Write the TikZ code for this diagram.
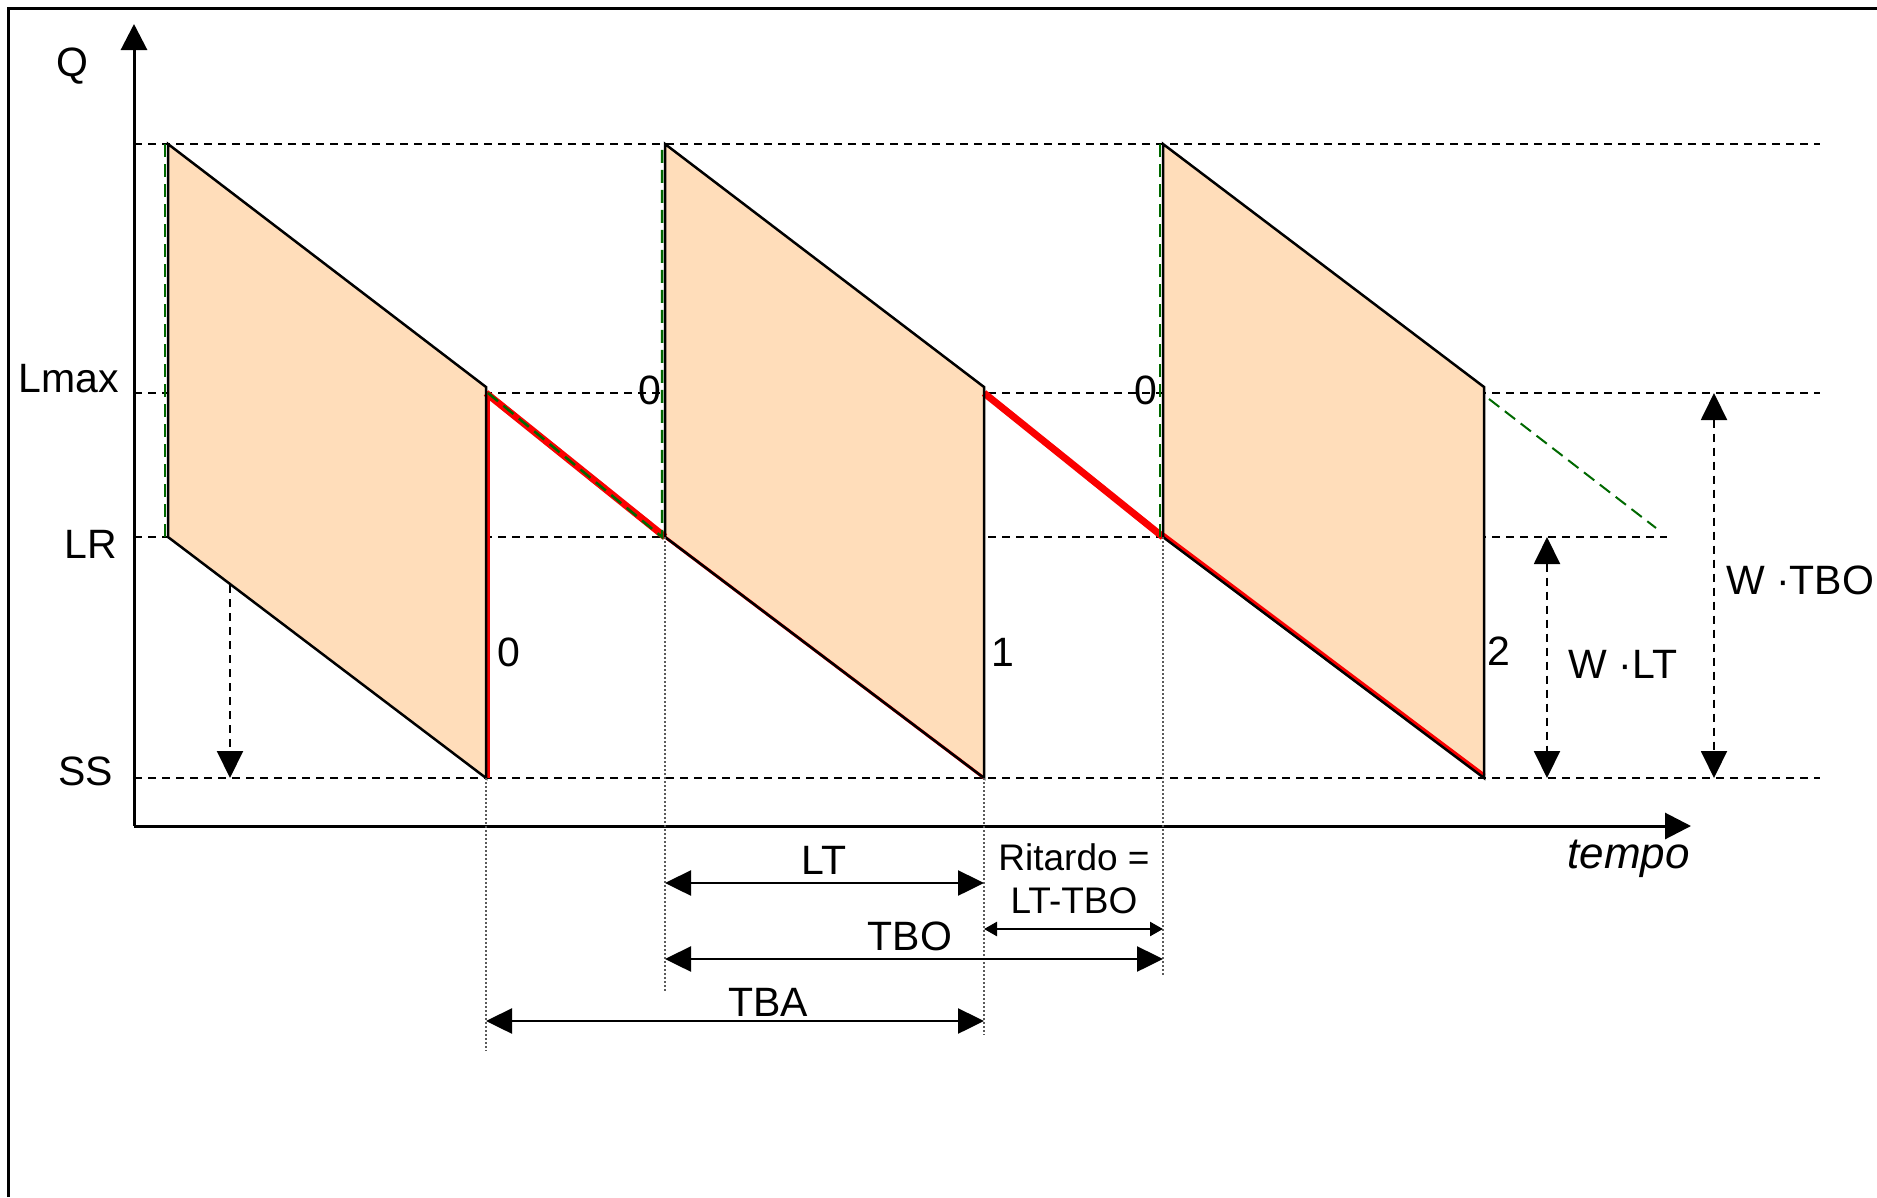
\documentclass[tikz,border=0pt]{standalone}
\usepackage{fontspec}
\setmainfont{Liberation Sans}
\usetikzlibrary{arrows.meta}
\definecolor{stockfill}{RGB}{255,221,186}
\definecolor{pathred}  {RGB}{250,  0,  0}
\definecolor{posgreen} {RGB}{  0,105,  0}
\definecolor{guidegray}{RGB}{ 90, 90, 90}
\tikzset{
  lbl/.style={font=\fontsize{41}{49}\selectfont,inner sep=0pt},
  lblsmall/.style={font=\fontsize{37}{43}\selectfont,inner sep=0pt,align=center},
  frame/.style={line width=3pt},
  axis/.style={line width=3pt,-{Triangle[length=26pt,width=26pt]}},
  level/.style={line width=2pt,dash pattern=on 8pt off 6pt},
  edge/.style={line width=2.5pt,line join=miter},
  redthick/.style={line width=7pt,color=pathred},
  redthin/.style={line width=3pt,color=pathred},
  posline/.style={line width=2.5pt,color=posgreen,dash pattern=on 13pt off 7pt},
  guide/.style={line width=1.2pt,color=guidegray,dash pattern=on 2pt off 2pt},
  dim/.style={line width=2.5pt,{Triangle[length=26pt,width=25pt]}-{Triangle[length=26pt,width=25pt]}},
  dimsmall/.style={line width=2.5pt,{Triangle[length=13pt,width=14pt]}-{Triangle[length=13pt,width=14pt]}},
  dashdim/.style={line width=2pt,dash pattern=on 8pt off 6pt,
                  {Triangle[length=27pt,width=26pt]}-{Triangle[length=27pt,width=26pt]}},
  dashone/.style={line width=2pt,dash pattern=on 8pt off 6pt,-{Triangle[length=27pt,width=26pt]}},
}
\begin{document}
\begin{tikzpicture}[x=1pt,y=-1pt]
  \useasboundingbox (0,0) rectangle (1877,1197);
  \draw[frame](8,1197)--(8,8)--(1877,8);
  % axes and levels
  \coordinate (o) at (134,826);
  \coordinate (ytip) at (134,24);
  \coordinate (xtip) at (1691,826);
  \coordinate (qmax) at (134,144);  \coordinate (qmaxE) at (1820,144);
  \coordinate (lmax) at (134,393);  \coordinate (lmaxE) at (1820,393);
  \coordinate (lr)   at (134,537);  \coordinate (lrE)   at (1667,537);
  \coordinate (ss)   at (134,778);  \coordinate (ssE)   at (1820,778);
  \draw[level](qmax)--(qmaxE);
  \draw[level](lmax)--(lmaxE);
  \draw[level](lr)--(lrE);
  \draw[level](ss)--(ssE);
  % the three orders
  \coordinate (aTL) at (168,144);  \coordinate (aTR) at (486,387);
  \coordinate (aBR) at (486,778);  \coordinate (aBL) at (168,537);
  \coordinate (bTL) at (665,144);  \coordinate (bTR) at (984,387);
  \coordinate (bBR) at (984,778);  \coordinate (bBL) at (665,537);
  \coordinate (cTL) at (1163,144); \coordinate (cTR) at (1484,387);
  \coordinate (cBR) at (1484,778); \coordinate (cBL) at (1163,537);
  \coordinate (aLm) at (486,393);  \coordinate (bLm) at (984,393);
  \fill[stockfill](aTL)--(aTR)--(aBR)--(aBL)--cycle;
  \fill[stockfill](bTL)--(bTR)--(bBR)--(bBL)--cycle;
  \fill[stockfill](cTL)--(cTR)--(cBR)--(cBL)--cycle;
  \draw[posline]([xshift=3pt]bLm)--([xshift=-2pt]cBL);
  \draw[redthick](aLm)--(bBL);
  \draw[redthin](bBL)--(bBR);
  \draw[redthick](bLm)--(cBL);
  \draw[redthick,line width=5pt]([yshift=2pt]cBL)--([yshift=2pt]cBR);
  \draw[redthin]([xshift=2.5pt]aLm)--([xshift=2.5pt]aBR);
  \draw[edge](aBL)--(aTL)--(aTR)--(aBR)--cycle;
  \draw[edge](bBL)--(bTL)--(bTR)--(bBR)--cycle;
  \draw[edge](cBL)--(cTL)--(cTR)--(cBR)--cycle;
  \draw[posline]([xshift=-3pt]aBL)--([xshift=-3pt]aTL);
  \draw[posline]([xshift=2pt]aLm)--([xshift=-3pt]bBL)--([xshift=-3pt]bTL);
  \draw[posline]([xshift=-3pt]cBL)--([xshift=-3pt]cTL);
  \coordinate (gStart) at (1489,399); \coordinate (gEnd) at (1656,528);
  \draw[posline,line width=2pt](gStart)--(gEnd);
  \draw[axis](o)--(ytip);
  \draw[axis](o)--(xtip);
  % guides down to the time spans
  \coordinate (aDn) at (486,1051);  \coordinate (bDn) at (665,991);
  \coordinate (cDn) at (984,1035);  \coordinate (dDn) at (1163,976);
  \draw[guide](aBR)--(aDn);
  \draw[guide](bBL)--(bDn);
  \draw[guide](bBR)--(cDn);
  \draw[guide](cBL)--(dDn);
  \coordinate (ltA) at (665,883);   \coordinate (ltB) at (984,883);
  \coordinate (tboA) at (665,959);  \coordinate (tboB) at (1163,959);
  \coordinate (ritA) at (984,929);  \coordinate (ritB) at (1163,929);
  \coordinate (tbaA) at (486,1021); \coordinate (tbaB) at (984,1021);
  \draw[dim](ltA)--(ltB);
  \draw[dim](tboA)--(tboB);
  \draw[dimsmall](ritA)--(ritB);
  \draw[dim](tbaA)--(tbaB);
  % quantity spans
  \coordinate (dropA) at (230,585); \coordinate (dropB) at (230,778);
  \coordinate (wltA) at (1547,537); \coordinate (wltB) at (1547,778);
  \coordinate (wtbA) at (1714,393); \coordinate (wtbB) at (1714,778);
  \draw[dashone](dropA)--(dropB);
  \draw[dashdim](wltA)--(wltB);
  \draw[dashdim](wtbA)--(wtbB);
  % labels
  \node[lbl](lblQ) at (72,66){Q};
  \node[lbl,anchor=east](lblLmax) at (119,379){Lmax};
  \node[lbl,anchor=east](lblLR) at (117,544){LR};
  \node[lbl,anchor=east](lblSS) at (113,771){SS};
  \node[lbl](numA) at (650,390){0};
  \node[lbl](numB) at (1146,390){0};
  \node[lbl](numC) at (509,652){0};
  \node[lbl](numD) at (1003,652){1};
  \node[lbl](numE) at (1499,651){2};
  \node[lbl](lblWLT) at (1623,664){W ·LT};
  \node[lbl](lblWTBO) at (1800,580){W ·TBO};
  \node[lbl,font=\fontsize{44}{52}\selectfont\itshape,anchor=east](lblTempo) at (1690,859){tempo};
  \node[lbl](lblLT) at (824,860){LT};
  \node[lbl](lblTBO) at (910,936){TBO};
  \node[lbl](lblTBA) at (768,1002){TBA};
  \node[lblsmall](lblRit) at (1074,879){Ritardo =\\LT-TBO};
\end{tikzpicture}
\end{document}
